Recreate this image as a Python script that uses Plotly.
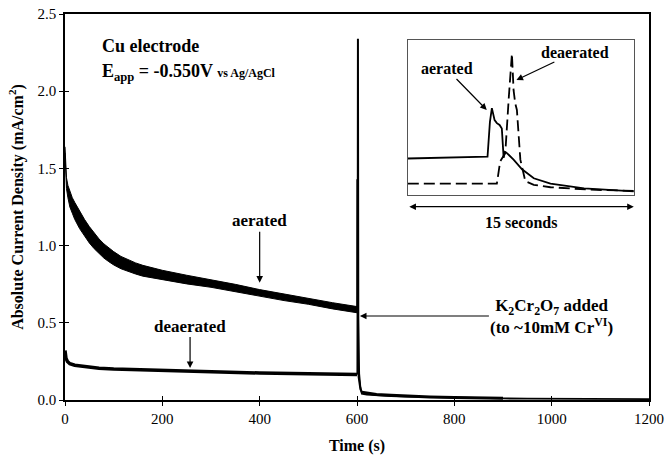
import plotly.graph_objects as go

# ---------------- data ----------------
# aerated (noisy band) before dichromate addition: upper / lower edges of the band
aer_t = [0, 1, 3, 6, 10, 15, 20, 30, 40, 50, 60, 70, 80, 90, 100, 115, 130, 145, 160, 180, 200,
         250, 300, 350, 400, 450, 500, 550, 600]
aer_upper = [1.64, 1.52, 1.44, 1.39, 1.35, 1.31, 1.28, 1.22, 1.17, 1.123, 1.08, 1.043, 1.011, 0.984, 0.961,
             0.93, 0.908, 0.888, 0.872, 0.854, 0.84, 0.808, 0.78, 0.749, 0.715, 0.686, 0.66, 0.63, 0.605]
aer_lower = [1.60, 1.46, 1.37, 1.31, 1.25, 1.21, 1.17, 1.11, 1.06, 1.017, 0.98, 0.947, 0.919, 0.896, 0.875,
             0.85, 0.832, 0.816, 0.802, 0.79, 0.78, 0.752, 0.73, 0.701, 0.671, 0.644, 0.62, 0.59, 0.565]

# deaerated before addition
dea_t = [0, 2, 5, 10, 20, 40, 70, 100, 150, 200, 300, 400, 500, 600]
dea_v = [0.32, 0.27, 0.25, 0.235, 0.225, 0.215, 0.205, 0.20, 0.195, 0.19, 0.18, 0.175, 0.17, 0.165]

# 15-second window around the addition (inset), seconds from window start
window_start = 595
ins_t_aer = [0, 5.29, 5.45, 5.58, 5.76, 5.91, 6.09, 6.24, 6.36, 6.45, 6.58, 7.02, 7.58, 8.36, 9.47, 11.7, 15.0]
ins_aer = [0.59, 0.62, 1.20, 1.43, 1.23, 1.18, 1.15, 1.09, 0.60, 0.70, 0.68, 0.57, 0.41, 0.26, 0.17, 0.09, 0.04]
ins_t_dea = [0, 5.91, 6.13, 6.30, 6.47, 6.70, 6.91, 7.02, 7.13, 7.24, 7.47, 7.80, 8.36, 9.47, 12.0, 15.0]
ins_dea = [0.17, 0.17, 0.54, 0.62, 0.68, 1.60, 2.34, 1.73, 1.51, 1.40, 0.57, 0.21, 0.15, 0.11, 0.07, 0.05]

# after the addition
post_t_aer = [620, 640, 670, 700, 750, 800, 850, 900, 950, 1000, 1100, 1200]
post_aer = [0.035, 0.03, 0.025, 0.022, 0.018, 0.015, 0.012, 0.01, 0.009, 0.008, 0.007, 0.006]
post_t_dea = [620, 640, 670, 700, 750, 800, 850, 900]
post_dea = [0.045, 0.035, 0.03, 0.025, 0.02, 0.017, 0.014, 0.012]

x_ticks = [0, 200, 400, 600, 800, 1000, 1200]
y_ticks = [0.0, 0.5, 1.0, 1.5, 2.0, 2.5]

FONT = "Liberation Serif"
BLACK = "black"

fig = go.Figure()

# aerated band
fig.add_trace(go.Scatter(x=aer_t, y=aer_lower, mode="lines", line=dict(color=BLACK, width=1),
                         showlegend=False, hoverinfo="skip"))
fig.add_trace(go.Scatter(x=aer_t, y=aer_upper, mode="lines", line=dict(color=BLACK, width=1),
                         fill="tonexty", fillcolor=BLACK, showlegend=False, hoverinfo="skip"))

# aerated spike + decay
aer_after_x = [window_start + t for t in ins_t_aer[1:]] + post_t_aer
aer_after_y = ins_aer[1:] + post_aer
fig.add_trace(go.Scatter(x=[aer_t[-1]] + aer_after_x, y=[(aer_upper[-1] + aer_lower[-1]) / 2] + aer_after_y,
                         mode="lines", line=dict(color=BLACK, width=1.8), showlegend=False))

# deaerated: baseline (thick), spike (thin), decay (thick)
fig.add_trace(go.Scatter(x=dea_t, y=dea_v, mode="lines", line=dict(color=BLACK, width=3.5),
                         showlegend=False))
fig.add_trace(go.Scatter(x=[dea_t[-1]] + [window_start + t for t in ins_t_dea[1:]],
                         y=[dea_v[-1]] + ins_dea[1:], mode="lines",
                         line=dict(color=BLACK, width=2), showlegend=False))
fig.add_trace(go.Scatter(x=[window_start + ins_t_dea[-1]] + post_t_dea, y=[ins_dea[-1]] + post_dea,
                         mode="lines", line=dict(color=BLACK, width=3), showlegend=False))

# inset traces
fig.add_trace(go.Scatter(x=ins_t_aer, y=ins_aer, mode="lines", xaxis="x2", yaxis="y2",
                         line=dict(color=BLACK, width=1.8), showlegend=False))
fig.add_trace(go.Scatter(x=ins_t_dea, y=ins_dea, mode="lines", xaxis="x2", yaxis="y2",
                         line=dict(color=BLACK, width=1.8, dash="11px,5px"), showlegend=False))

# dummy traces for inward half of crossing ticks
fig.add_trace(go.Scatter(x=[None], y=[None], xaxis="x3", yaxis="y", showlegend=False))
fig.add_trace(go.Scatter(x=[None], y=[None], xaxis="x", yaxis="y3", showlegend=False))

tickfont = dict(family=FONT, size=15, color=BLACK)
titlefont = dict(family=FONT, size=16, color=BLACK, weight="bold")

fig.update_layout(
    width=665, height=459,
    margin=dict(l=65, r=16, t=14, b=59),
    paper_bgcolor="white", plot_bgcolor="white",
    font=dict(family=FONT, color=BLACK),
    xaxis=dict(range=[0, 1200], tickvals=x_ticks, ticks="outside", ticklen=4, tickwidth=1,
               tickcolor=BLACK, showline=True, linecolor=BLACK, linewidth=1.5, mirror=True,
               showgrid=False, zeroline=False, tickfont=tickfont, automargin=False,
               title=dict(text="<b>Time (s)</b>", font=titlefont, standoff=14)),
    yaxis=dict(range=[0, 2.5], tickvals=y_ticks, tickformat=".1f", ticks="outside", ticklen=4,
               tickwidth=1, tickcolor=BLACK, showline=True, linecolor=BLACK, linewidth=1.5,
               mirror=True, showgrid=False, zeroline=False, tickfont=tickfont, automargin=False,
               title=dict(text="<b>Absolute Current Density (mA/cm<sup>2</sup>)</b>", font=titlefont,
                          standoff=10)),
    xaxis3=dict(overlaying="x", matches="x", anchor="y", tickvals=x_ticks, ticks="inside", ticklen=4,
                tickcolor=BLACK, showticklabels=False, showline=False, showgrid=False, zeroline=False,
                automargin=False),
    yaxis3=dict(overlaying="y", matches="y", anchor="x", side="left", tickvals=y_ticks, ticks="inside",
                ticklen=4, tickcolor=BLACK, showticklabels=False, showline=False, showgrid=False,
                zeroline=False, automargin=False),
    xaxis2=dict(domain=[0.587, 0.974], anchor="y2", range=[0, 15], showline=True, linecolor="#555",
                linewidth=1, mirror=True, showticklabels=False, ticks="", showgrid=False, zeroline=False,
                automargin=False),
    yaxis2=dict(domain=[0.531, 0.933], anchor="x2", range=[-0.02, 2.57], showline=True, linecolor="#555",
                linewidth=1, mirror=True, showticklabels=False, ticks="", showgrid=False, zeroline=False,
                automargin=False),
)

ann_font = dict(family=FONT, size=17, color=BLACK)
arrow = dict(showarrow=True, arrowhead=2, arrowsize=1.1, arrowwidth=1.2, arrowcolor=BLACK)

fig.add_annotation(x=72, y=2.293, xref="x", yref="y", xanchor="left", yanchor="middle",
                   text="<b>Cu electrode</b>", showarrow=False,
                   font=dict(family=FONT, size=18, color=BLACK))
fig.add_annotation(x=72, y=2.118, xref="x", yref="y", xanchor="left", yanchor="middle",
                   text="<b>E<sub>app</sub> = -0.550V <span style='font-size:12px'>vs Ag/AgCl</span></b>",
                   showarrow=False, font=dict(family=FONT, size=18, color=BLACK))
fig.add_annotation(x=400, y=0.76, xref="x", yref="y", ax=0, ay=-62, text="<b>aerated</b>",
                   font=ann_font, **arrow)
fig.add_annotation(x=257, y=0.207, xref="x", yref="y", ax=0, ay=-42, text="<b>deaerated</b>",
                   font=ann_font, **arrow)
fig.add_annotation(x=606, y=0.544, xref="x", yref="y", ax=192, ay=0,
                   text="<b>K<sub>2</sub>Cr<sub>2</sub>O<sub>7</sub> added<br>(to ~10mM Cr<sup>VI</sup>)</b>",
                   font=ann_font, align="center", **arrow)
fig.add_annotation(x=5.24, y=1.40, xref="x2", yref="y2", ax=-40, ay=-41, text="<b>aerated</b>",
                   font=dict(family=FONT, size=16, color=BLACK), **arrow)
fig.add_annotation(x=7.21, y=1.9, xref="x2", yref="y2", ax=59, ay=-28, text="<b>deaerated</b>",
                   font=dict(family=FONT, size=16, color=BLACK), **arrow)
fig.add_annotation(x=15, y=0.5008, xref="x2", yref="paper", ax=0, axref="x2", ay=0, ayref="pixel",
                   text="", showarrow=True, arrowhead=2, arrowsize=1.1, arrowwidth=1.2,
                   arrowcolor=BLACK, arrowside="end+start")
fig.add_annotation(x=7.5, y=0.461, xref="x2", yref="paper", text="<b>15 seconds</b>", showarrow=False,
                   font=dict(family=FONT, size=16, color=BLACK))

fig.write_html("out.html")
